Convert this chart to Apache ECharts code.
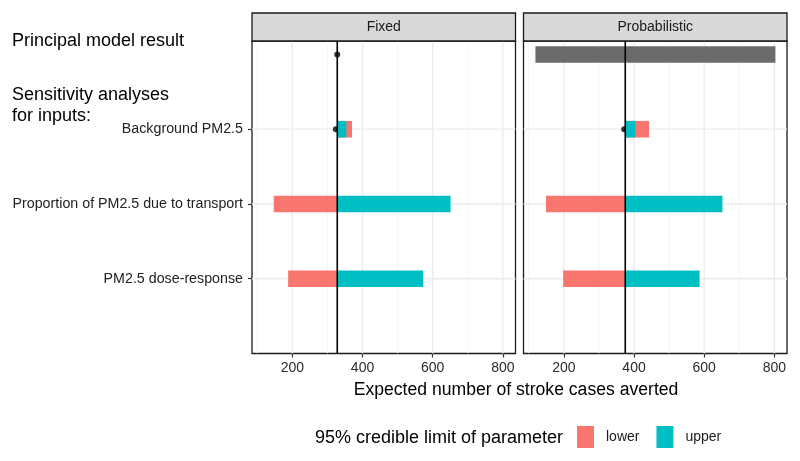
<!DOCTYPE html>
<html>
<head>
<meta charset="utf-8">
<script src="https://cdn.jsdelivr.net/npm/echarts@6/dist/echarts.min.js"></script>
<style>
html,body{margin:0;padding:0;background:#fff;}
#chart{width:800px;height:461px;}
</style>
</head>
<body>
<div id="chart"></div>
<script>
// ---- data ----
const xTicksMajor = [200, 400, 600, 800];
const xTicksMinor = [100, 300, 500, 700];
const categories = ["PM2.5 dose-response", "Proportion of PM2.5 due to transport", "Background PM2.5"];
const catPos = [1, 2, 3];
const principalPos = 4;
const panels = ["Fixed", "Probabilistic"];

const fixedBaseline = 328;
const fixedLower = [188, 147, 370];
const fixedUpper = [573, 651, 354];
const fixedDots = [[328, 4], [324, 3]];

const probBaseline = 375;
const probLower = [198, 149, 443];
const probUpper = [587, 652, 404];
const probDots = [[372, 3]];
const probPrincipal = [119, 803];

const legendNames = ["lower", "upper"];
const colors = {lower: "#F8766D", upper: "#00BFC4", principal: "#6b6b6b"};

// ---- helpers ----
const FONT = "Liberation Sans, Arial, sans-serif";
const BAR_H = 0.222;
const X_MIN = 85, X_MAX = 836;

function barItem(params, api) {
  const a = api.coord([api.value(0), api.value(2)]);
  const b = api.coord([api.value(1), api.value(2)]);
  const h = api.size([0, BAR_H])[1];
  return {
    type: 'rect',
    shape: {x: Math.min(a[0], b[0]), y: a[1] - h / 2, width: Math.abs(b[0] - a[0]), height: h},
    style: {fill: api.visual('color')}
  };
}
function vLineItem(color, width) {
  return function (params, api) {
    const cs = params.coordSys;
    const x = api.coord([api.value(0), 0])[0];
    return {type: 'line', shape: {x1: x, y1: cs.y, x2: x, y2: cs.y + cs.height},
      style: {stroke: color, lineWidth: width}};
  };
}
function hLineItem(color, width) {
  return function (params, api) {
    const cs = params.coordSys;
    const y = api.coord([X_MIN, api.value(0)])[1];
    return {type: 'line', shape: {x1: cs.x, y1: y, x2: cs.x + cs.width, y2: y},
      style: {stroke: color, lineWidth: width}};
  };
}
function barData(baseline, ends) {
  return ends.map((e, i) => [baseline, e, catPos[i]]);
}

function panelSeries(idx, baseline, lower, upper, dots, principal) {
  const ax = {xAxisIndex: idx, yAxisIndex: idx};
  const s = [];
  s.push(Object.assign({type: 'custom', name: 'gridMinor', renderItem: vLineItem('#f0f0f0', 0.7),
    data: xTicksMinor.map(v => [v]), encode: {x: 0}, silent: true, z: 1}, ax));
  s.push(Object.assign({type: 'custom', name: 'gridMajor', renderItem: vLineItem('#ebebeb', 1.3),
    data: xTicksMajor.map(v => [v]), encode: {x: 0}, silent: true, z: 1}, ax));
  s.push(Object.assign({type: 'custom', name: 'gridH', renderItem: hLineItem('#ebebeb', 1.3),
    data: catPos.map(v => [v]), encode: {y: 0}, silent: true, z: 1}, ax));
  if (principal) {
    s.push(Object.assign({type: 'custom', name: 'principal', renderItem: barItem,
      itemStyle: {color: colors.principal},
      data: [[principal[0], principal[1], principalPos]], encode: {x: [0, 1], y: 2}, z: 2}, ax));
  }
  s.push(Object.assign({type: 'scatter', name: 'dots', data: dots, symbolSize: 6,
    itemStyle: {color: '#000'}, z: 3}, ax));
  s.push(Object.assign({type: 'custom', name: 'lower', renderItem: barItem,
    itemStyle: {color: colors.lower}, data: barData(baseline, lower), encode: {x: [0, 1], y: 2}, z: 4}, ax));
  s.push(Object.assign({type: 'custom', name: 'upper', renderItem: barItem,
    itemStyle: {color: colors.upper}, data: barData(baseline, upper), encode: {x: [0, 1], y: 2}, z: 5}, ax));
  s.push(Object.assign({type: 'custom', name: 'baseline', renderItem: vLineItem('#000', 1.6),
    data: [[baseline]], encode: {x: 0}, silent: true, z: 6}, ax));
  return s;
}

const GRID_TOP = 41, GRID_H = 312.5;
const grids = [
  {left: 252, top: GRID_TOP, width: 263.5, height: GRID_H, show: true, borderColor: '#1a1a1a', borderWidth: 1.3, backgroundColor: '#fff', z: 0},
  {left: 523.5, top: GRID_TOP, width: 263.5, height: GRID_H, show: true, borderColor: '#1a1a1a', borderWidth: 1.3, backgroundColor: '#fff', z: 0}
];

function xAxis(i) {
  return {
    type: 'value', gridIndex: i, min: X_MIN, max: X_MAX,
    axisLine: {show: false},
    splitLine: {show: false}, minorSplitLine: {show: false},
    axisTick: {show: true, customValues: xTicksMajor, length: 4, lineStyle: {color: '#333', width: 1.2}},
    axisLabel: {customValues: xTicksMajor, margin: 8, fontSize: 14, color: '#2b2b2b', fontFamily: FONT}
  };
}
function yAxis(i) {
  return {
    type: 'value', gridIndex: i, min: 0, max: 4.18,
    axisLine: {show: false},
    splitLine: {show: false},
    axisTick: {show: i === 0, customValues: catPos, length: 4, lineStyle: {color: '#333', width: 1.2}},
    axisLabel: {show: i === 0, customValues: catPos, margin: 9, fontSize: 14.25, color: '#222', fontFamily: FONT,
      formatter: v => categories[catPos.indexOf(Math.round(v))] || ''}
  };
}

function strip(i, label) {
  const g = grids[i];
  return [
    {type: 'rect', shape: {x: g.left, y: 13, width: g.width, height: GRID_TOP - 13},
      style: {fill: '#d9d9d9', stroke: '#1a1a1a', lineWidth: 1.3}, z: 10},
    {type: 'text', x: g.left + g.width / 2, y: 27,
      style: {text: label, fontSize: 14, fontFamily: FONT, fill: '#1a1a1a', align: 'center', verticalAlign: 'middle'}, z: 11}
  ];
}

const option = {
  animation: false,
  backgroundColor: '#fff',
  grid: grids,
  xAxis: [xAxis(0), xAxis(1)],
  yAxis: [yAxis(0), yAxis(1)],
  legend: {
    data: legendNames, left: 577, top: 426, padding: 0, icon: 'rect', itemWidth: 17, itemHeight: 22, itemGap: 17,
    textStyle: {fontSize: 14, fontFamily: FONT, color: '#1a1a1a', padding: [0, 0, 0, 7]},
    selectedMode: false
  },
  graphic: [
    ...strip(0, panels[0]), ...strip(1, panels[1]),
    {type: 'text', x: 12, y: 41, style: {text: 'Principal model result', fontSize: 18, fontFamily: FONT, fill: '#000', verticalAlign: 'middle'}},
    {type: 'text', x: 12, y: 95, style: {text: 'Sensitivity analyses', fontSize: 18, fontFamily: FONT, fill: '#000', verticalAlign: 'middle'}},
    {type: 'text', x: 12, y: 116, style: {text: 'for inputs:', fontSize: 18, fontFamily: FONT, fill: '#000', verticalAlign: 'middle'}},
    {type: 'text', x: 516, y: 390, style: {text: 'Expected number of stroke cases averted', fontSize: 17.6, fontFamily: FONT, fill: '#000', align: 'center', verticalAlign: 'middle'}},
    {type: 'text', x: 315, y: 438, style: {text: '95% credible limit of parameter', fontSize: 18, fontFamily: FONT, fill: '#000', verticalAlign: 'middle'}}
  ],
  series: [
    ...panelSeries(0, fixedBaseline, fixedLower, fixedUpper, fixedDots, null),
    ...panelSeries(1, probBaseline, probLower, probUpper, probDots, probPrincipal)
  ]
};

const chart = echarts.init(document.getElementById('chart'), null, {renderer: 'canvas'});
chart.setOption(option);
</script>
</body>
</html>
